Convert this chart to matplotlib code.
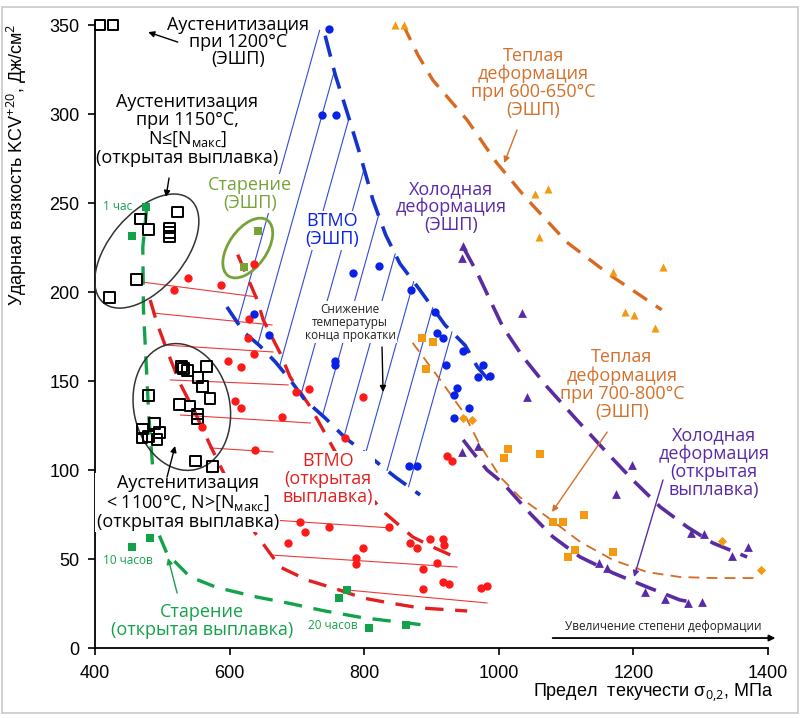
import numpy as np
import matplotlib
matplotlib.use("Agg")
import matplotlib.pyplot as plt
from matplotlib.patches import Ellipse, Rectangle
from matplotlib.transforms import ScaledTranslation

plt.rcParams['mathtext.fontset'] = 'custom'
plt.rcParams['mathtext.rm'] = 'Open Sans'
plt.rcParams['mathtext.it'] = 'Open Sans:italic'
plt.rcParams['mathtext.bf'] = 'Open Sans:bold'

NARROW = ['Liberation Sans Narrow', 'Liberation Sans', 'DejaVu Sans']
LABEL = ['Open Sans', 'DejaVu Sans']

# ---------------- data: yield strength (MPa) vs impact toughness KCV+20 (J/cm2)
ecs1200_x = [407, 427]
ecs1200_y = [350, 350]

aust1150_x = [421, 462, 468, 480, 511, 511, 511, 523]
aust1150_y = [197, 207, 241, 235, 236, 233.5, 231, 245]

aust1100_x = [529, 532, 537, 566, 553, 560, 571, 480, 525, 541, 552, 552,
              488, 471, 496, 470, 480, 492, 549, 575]
aust1100_y = [158, 157, 156, 158, 152, 147, 140, 142, 137, 136, 131.5, 128.6,
              126, 123, 121, 118, 119, 117, 105, 102]

aging_open_x = [476, 455, 455, 482, 763, 774, 807, 862]
aging_open_y = [248, 231.5, 57, 62, 28, 32.6, 11, 13]

aging_esr_x = [642, 621]
aging_esr_y = [234, 214]

btmo_open_x = [538, 517, 587, 636, 629, 627, 636, 598, 617, 699, 718, 608, 617,
               678, 559, 798, 772, 638, 923, 931, 705, 712, 748, 837, 687, 798,
               868, 879, 898, 917, 919, 788, 788, 908, 887, 917, 926, 887, 974, 983]
btmo_open_y = [208, 201, 204, 216, 185, 174, 165, 161, 158, 144, 145.5, 139, 135,
               130, 124, 141, 118, 111, 108, 105, 71, 65, 68, 68, 59, 56, 59, 56,
               61, 61, 58, 50.6, 47.2, 47.8, 44.4, 37, 36, 33, 33.7, 34.8]

btmo_esr_x = [748, 737, 758, 636, 658, 783, 822, 757, 757, 870, 905, 908, 917,
              947, 922, 977, 969, 987, 938, 934, 956, 934, 867, 879]
btmo_esr_y = [348, 299.4, 299.4, 187.6, 175.8, 210.7, 214.6, 161, 159, 201, 189,
              177, 174, 167, 159, 159, 152, 153, 146, 142, 135, 129, 102, 102]

warm600_x = [846, 859, 1054, 1073, 1060, 1170, 1244, 1188, 1201, 1232]
warm600_y = [350, 350, 255, 258, 231, 211, 214, 189, 187, 180]

warm700_sq_x = [886, 902, 892, 1014, 1008, 1061, 1081, 1095, 1127, 1103, 1113, 1170]
warm700_sq_y = [174, 172, 157, 112, 107, 109, 71, 71, 75, 51, 55, 54]
warm700_dm_x = [947, 960, 1332, 1390]
warm700_dm_y = [129, 128, 60, 44]

cold_x = [947, 945, 1035, 1042, 1198, 1174, 1286, 1305, 1347, 1370,
          969, 945, 1149, 1161, 1217, 1247, 1281, 1302]
cold_y = [226, 219, 188, 141, 103, 86.5, 64.6, 64, 51.7, 56.7,
          113.5, 110, 48, 45, 31.5, 27.5, 25.3, 25.8]

# ---------------- trend curves
green_x = [477, 471, 472, 476, 480, 484, 490, 494, 507, 541, 581, 641, 690, 739, 798, 887]
green_y = [248, 225, 190, 160, 130, 110, 80, 64.6, 53, 40, 34, 28.6, 25, 21, 17, 13]

red_up_x = [612, 641, 650, 675, 690, 720, 739, 772, 831, 872, 902, 938]
red_up_y = [221, 195.5, 184.3, 165.7, 152.2, 135.4, 122.5, 100, 75.8, 62.4, 56.7, 50.6]
red_lo_x = [482, 492, 508.5, 526, 549, 571, 589, 638, 675, 715, 754, 798, 838, 883, 953]
red_lo_y = [195.5, 182.6, 165.7, 148.9, 132, 114, 100, 64.6, 45.5, 38.2, 33.7, 28.1,
            25.3, 22.5, 20.8]

blue_up_x = [742, 757, 775, 794, 813, 832, 853, 883, 920, 950, 968, 994]
blue_up_y = [344, 322, 300.5, 277, 251.6, 232, 216, 201, 181.5, 170, 158, 146.6]
blue_lo_x = [596, 621, 645, 668, 690, 712, 742, 772, 809, 846, 883]
blue_lo_y = [191.6, 177.5, 169.7, 160.7, 150.6, 139.3, 129.2, 118, 107.3, 96.1, 86]

or600_x = [858, 880, 902, 953, 997, 1039, 1101, 1165, 1242]
or600_y = [350, 333, 319, 296.6, 272.5, 253.4, 228, 209.6, 190]
or700_x = [872, 913, 947, 972, 1002, 1031, 1072, 1121, 1170, 1220, 1269, 1318, 1384]
or700_y = [171.4, 150.6, 132.6, 114, 96.1, 84.8, 73.6, 59.6, 49.4, 42.7, 39.9, 39.3, 39.3]

pu_esr_x = [947, 968, 987, 1006, 1036, 1072, 1116, 1161, 1199, 1240, 1280, 1318, 1369]
pu_esr_y = [225.3, 210.7, 195.5, 180.4, 163.5, 146.6, 128.1, 109.6, 94.4, 79.2, 68, 59, 51.1]
pu_open_x = [947, 962, 982.5, 1006, 1046, 1080.5, 1121, 1170, 1220, 1269, 1294.5]
pu_open_y = [116.9, 109.6, 100, 92.7, 75.8, 62.4, 51.1, 42.1, 34.3, 27, 25.3]

# thin red shading lines of the open-melt TMT region: (x0, y0, x1, y1)
red_hatch = [(470, 205.6, 641, 197.2), (486, 188.2, 663, 181.5), (504, 170.2, 664.5, 166.3),
             (512, 150.6, 687, 147.8), (527, 130.9, 720, 126.4), (571, 112.4, 664.5, 110.1),
             (664.5, 71.9, 841, 67.4), (663, 52.2, 938, 45.5), (760, 33.1, 982.5, 25.3)]
# start points (on the lower blue curve) of the blue shading lines
blue_hatch_starts = [612, 642, 674, 706, 738, 770, 802, 834, 866]

xticks = [400, 600, 800, 1000, 1200, 1400]
yticks = [0, 50, 100, 150, 200, 250, 300, 350]

# ---------------- colours
RED, RED_D = '#ff1a1a', '#e41f1f'
BLUE, BLUE_D, BLUE_T = '#0a22e6', '#1432cc', '#3348d8'
GREEN = '#13a24a'
OLIVE = '#76a338'
ORANGE, ORANGE_D, ORANGE_T = '#f39a12', '#d86a20', '#d4702a'
PURPLE, PURPLE_D = '#5a2aa6', '#5a2ca0'

fig = plt.figure(figsize=(8.03, 7.18), dpi=100)
ax = fig.add_axes([0.11831, 0.09749, 0.83811, 0.86769])
ax.set_xlim(400, 1400)
ax.set_ylim(0, 350)
ax.set_xticks(xticks)
ax.set_yticks(yticks)
for s in ('top', 'right'):
    ax.spines[s].set_visible(False)
for s in ('left', 'bottom'):
    ax.spines[s].set_linewidth(1.3)
ax.tick_params(direction='out', length=5, width=1.2, labelsize=13)
ax.tick_params(axis='x', pad=7)
ax.tick_params(axis='y', pad=6)
for lab in ax.get_xticklabels() + ax.get_yticklabels():
    lab.set_family(NARROW)

ax.set_ylabel('Ударная вязкость KCV$^{+20}$, Дж/см$^{2}$', family=NARROW, fontsize=13)
ax.yaxis.label.set_va('center')
ax.yaxis.label.set_ha('center')
ax.yaxis.set_label_coords(-0.116, 0.775)
ax.set_xlabel('Предел  текучести σ$_{0{,}2}$, МПа', family=NARROW, fontsize=13,
              ha='right', va='center')
ax.xaxis.set_label_coords(1.008, -0.0725)

fig.add_artist(Rectangle((0.0025, 0.007), 0.991, 0.983, transform=fig.transFigure,
                         fill=False, ec='#c8c8c8', lw=1.2))

# ---------------- blue shading lines between the two blue curves
T = ax.transData
up_disp = T.transform(np.column_stack([blue_up_x, blue_up_y]))
order = np.argsort(up_disp[:, 0])
top_disp = T.transform((400, 347))[1]
for sx in blue_hatch_starts:
    sy = np.interp(sx, blue_lo_x, blue_lo_y)
    p0 = T.transform((sx, sy))
    t = np.linspace(0, 700, 7001)
    pts = p0 + np.outer(t, [0.28, 1.0])
    lim = np.interp(pts[:, 0], up_disp[order, 0], up_disp[order, 1], left=top_disp)
    hit = np.nonzero(pts[:, 1] >= lim)[0]
    p1 = pts[hit[0]] if len(hit) else pts[-1]
    seg = T.inverted().transform(np.vstack([p0, p1]))
    ax.plot(seg[:, 0], seg[:, 1], color=BLUE_T, lw=0.8, zorder=1)

for x0, y0, x1, y1 in red_hatch:
    ax.plot([x0, x1], [y0, y1], color='#ea3a3a', lw=0.8, zorder=1)

# ---------------- dashed trend curves
ax.plot(green_x, green_y, color=GREEN, lw=2.4, dashes=(5.5, 3.5), zorder=2)
ax.plot(red_up_x, red_up_y, color=RED_D, lw=2.4, dashes=(5.5, 3.5), zorder=2)
ax.plot(red_lo_x, red_lo_y, color=RED_D, lw=2.4, dashes=(5.5, 3.5), zorder=2)
ax.plot(blue_up_x, blue_up_y, color=BLUE_D, lw=2.6, dashes=(6, 3.2), zorder=2)
ax.plot(blue_lo_x, blue_lo_y, color=BLUE_D, lw=2.6, dashes=(6, 3.2), zorder=2)
ax.plot(or600_x, or600_y, color=ORANGE_D, lw=2.4, dashes=(5, 3.2), zorder=2)
ax.plot(or700_x, or700_y, color=ORANGE_D, lw=1.3, dashes=(6, 4), zorder=2)
ax.plot(pu_esr_x, pu_esr_y, color=PURPLE_D, lw=2.6, dashes=(6, 3), zorder=2)
ax.plot(pu_open_x, pu_open_y, color=PURPLE_D, lw=2.6, dashes=(6, 3), zorder=2)

# ---------------- ellipses (size in pixels, centre in data units)
def ellipse(cx, cy, w, h, ang, color, lw):
    tr = fig.dpi_scale_trans + ScaledTranslation(cx, cy, ax.transData)
    e = Ellipse((0, 0), w / fig.dpi, h / fig.dpi, angle=ang, transform=tr,
                fill=False, ec=color, lw=lw, zorder=3)
    ax.add_patch(e)

ellipse(477, 223, 135, 75, 50, '#333333', 1.1)
ellipse(529, 135.4, 128, 96, 102, '#333333', 1.1)
ellipse(627, 224.7, 68, 38, 55, OLIVE, 2.0)

# ---------------- markers
kw = dict(zorder=6, clip_on=False)
ax.scatter(ecs1200_x, ecs1200_y, marker='s', s=60, facecolors='white',
           edgecolors='black', linewidths=1.4, **kw)
ax.scatter(aust1150_x, aust1150_y, marker='s', s=60, facecolors='none',
           edgecolors='black', linewidths=1.4, **kw)
ax.scatter(aust1100_x, aust1100_y, marker='s', s=60, facecolors='none',
           edgecolors='black', linewidths=1.4, **kw)
ax.scatter(aging_open_x, aging_open_y, marker='s', s=32, color=GREEN, linewidths=0, **kw)
ax.scatter(aging_esr_x, aging_esr_y, marker='s', s=40, color=OLIVE, linewidths=0, **kw)
ax.scatter(btmo_open_x, btmo_open_y, marker='o', s=36, color=RED, linewidths=0, **kw)
ax.scatter(btmo_esr_x, btmo_esr_y, marker='o', s=36, color=BLUE, linewidths=0, **kw)
ax.scatter(warm600_x, warm600_y, marker='^', s=34, color=ORANGE, linewidths=0, **kw)
ax.scatter(warm700_sq_x, warm700_sq_y, marker='s', s=40, color=ORANGE, linewidths=0, **kw)
ax.scatter(warm700_dm_x, warm700_dm_y, marker='D', s=22, color=ORANGE, linewidths=0, **kw)
ax.scatter(cold_x, cold_y, marker='^', s=40, color=PURPLE, linewidths=0, **kw)

# ---------------- labels
WB = dict(facecolor='white', edgecolor='none', pad=1.0)

def label(x, y, s, color, size=13, box=False, ls=1.0):
    ax.text(x, y, s, color=color, fontsize=size, family=LABEL, ha='center',
            va='center', linespacing=ls, zorder=4 if box else 5,
            bbox=WB if box else None)

label(612, 340.4, 'Аустенитизация\nпри 1200°C\n(ЭШП)', 'black', ls=0.95)
label(537, 291, 'Аустенитизация\nпри 1150°C,\nN≤[N$_{\\mathrm{макс}}$]\n(открытая выплавка)',
      'black', ls=1.0)
label(630, 255.3, 'Старение\n(ЭШП)', OLIVE, box=True)
label(752, 234.8, 'ВТМО\n(ЭШП)', BLUE, box=True)
label(929, 247.7, 'Холодная\nдеформация\n(ЭШП)', PURPLE)
label(1051, 317.4, 'Теплая\nдеформация\nпри 600-650°C\n(ЭШП)', ORANGE_T)
label(779, 183.1, 'Снижение\nтемпературы\nконца прокатки', '#222222', size=8.5,
      box=True)
label(746, 94.7, 'ВТМО\n(открытая\nвыплавка)', RED_D, box=True)
label(538, 81.7, 'Аустенитизация\n< 1100°C, N>[N$_{\\mathrm{макс}}$]\n(открытая выплавка)',
      'black', box=True)
label(559, 15.2, 'Старение\n(открытая выплавка)', GREEN)
label(1183, 148, 'Теплая\nдеформация\nпри 700-800°C\n(ЭШП)', ORANGE_T)
label(1320, 104.2, 'Холодная\nдеформация\n(открытая\nвыплавка)', PURPLE)
label(434, 248.3, '1 час', GREEN, size=8.5)
label(449, 49.4, '10 часов', GREEN, size=8.5)
label(754, 12.9, '20 часов', GREEN, size=8.5)
label(1244, 11.8, 'Увеличение степени деформации', '#222222', size=8.5)

# ---------------- arrows
def arrow(x0, y0, x1, y1, color, lw=1.0):
    ax.annotate('', xy=(x1, y1), xytext=(x0, y0),
                arrowprops=dict(arrowstyle='-|>', color=color, lw=lw,
                                mutation_scale=9, shrinkA=0, shrinkB=0),
                zorder=5, annotation_clip=False)

arrow(523, 340.4, 479, 346, 'black')
arrow(510, 264, 505.5, 253.4, 'black')
arrow(507, 96, 519, 113.5, 'black')
arrow(522, 30.9, 508.5, 50.6, GREEN)
arrow(1027, 291, 1008, 272.5, ORANGE_T)
arrow(1161, 121.3, 1079, 76.4, ORANGE_T)
arrow(1244, 94.4, 1201, 39.9, PURPLE)
arrow(826.5, 169.1, 828, 143.8, 'black')
arrow(1080, 5.6, 1411, 5.6, 'black', lw=1.3)

fig.savefig('out.png', dpi=100)
